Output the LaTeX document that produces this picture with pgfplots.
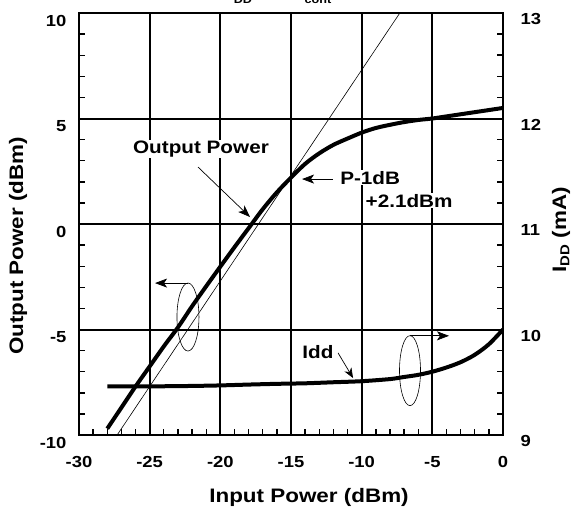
\documentclass[border=0pt]{standalone}
\usepackage{fontspec}
\setmainfont{Liberation Sans}[FakeStretch=1.15]
\usepackage{pgfplots}
\pgfplotsset{compat=1.18}
\usetikzlibrary{arrows.meta}

\pgfplotstableread{
x y
-28 -9.7
-27 -8.7
-26 -7.7
-25 -6.75
-24 -5.8
-23 -4.9
-22 -3.9
-21 -2.95
-20 -2.02
-19 -1.1
-18 -0.2
-17 0.7
-16 1.5
-15 2.2
-14 2.85
-13 3.35
-12 3.75
-11 4.05
-10 4.33
-9 4.55
-8 4.7
-7 4.83
-6 4.93
-5 5.0
-4 5.1
-3 5.2
-2 5.3
-1 5.4
0 5.5
}\pout

\pgfplotstableread{
x y
-28 9.46
-26 9.46
-24 9.462
-22 9.465
-20 9.47
-18 9.478
-16 9.485
-14 9.49
-12 9.50
-10 9.51
-8 9.53
-7 9.55
-6 9.57
-5 9.60
-4 9.64
-3 9.69
-2 9.76
-1 9.86
0 10.0
}\idd

\begin{document}
\begin{tikzpicture}
\pgfplotsset{
  common/.style={
    scale only axis, width=424pt, height=422pt,
    xmin=-30, xmax=0,
    /pgf/number format/assume math mode=true,
    tick label style={font=\fontsize{16}{16}\selectfont\bfseries},
    label style={font=\fontsize{19.5}{19.5}\selectfont\bfseries},
    minor tick length=6pt, major tick length=0pt,
    tick align=inside,
    every tick/.style={black, line width=1.4pt},
    axis line style={black, line width=2.4pt},
  }
}
\begin{axis}[common, name=main,
  ymin=-10, ymax=10,
  xtick={-30,-25,...,0}, ytick={-10,-5,...,10},
  minor x tick num=4, minor y tick num=4,
  xtick pos=left, ytick pos=left,
  grid=major, major grid style={black, line width=2pt},
  xticklabel style={yshift=-18pt},
  yticklabel style={xshift=-9pt, yshift=-8pt},
  xlabel={Input Power (dBm)},
  ylabel={Output Power (dBm)},
  xlabel style={at={(axis description cs:0.5425,-0.161)}, anchor=base},
  ylabel style={at={(axis description cs:-0.132,0.448)}, anchor=base},
]
\addplot[black, line width=0.6pt] coordinates {(-27.3,-10) (-7.3,10)};
\addplot[black, line width=4pt, smooth] table {\pout};

\draw[line width=0.6pt] (axis cs:-22.29,-4.41) ellipse [x radius=11pt, y radius=34pt];
\draw[-{Stealth[length=12pt,width=9pt,inset=3pt]}, line width=0.7pt] (axis cs:-22.29,-2.8) -- (axis cs:-24.62,-2.8);
\draw[line width=0.6pt] (axis cs:-6.58,-6.95) ellipse [x radius=10.5pt, y radius=35pt];
\draw[-{Stealth[length=12pt,width=9pt,inset=3pt]}, line width=0.7pt] (axis cs:-6.58,-5.3) -- (axis cs:-3.82,-5.3);

\node[fill=white, inner sep=1pt, font=\fontsize{18}{18}\selectfont\bfseries] at (axis cs:-21.37,3.55) {Output Power};
\draw[-{Stealth[length=12pt,width=9pt,inset=3pt]}, line width=0.7pt] (axis cs:-21.58,2.70) -- (axis cs:-17.9,0.33);
\node[fill=white, inner sep=1pt, anchor=west, font=\fontsize{18}{18}\selectfont\bfseries] at (axis cs:-11.6,2.2) {P-1dB};
\node[fill=white, inner sep=1pt, anchor=west, font=\fontsize{18}{18}\selectfont\bfseries] at (axis cs:-9.8,1.1) {+2.1dBm};
\draw[-{Stealth[length=12pt,width=9pt,inset=3pt]}, line width=0.7pt] (axis cs:-12.03,2.13) -- (axis cs:-14.22,2.13);
\node[font=\fontsize{18}{18}\selectfont\bfseries] at (axis cs:-13.09,-6.07) {Idd};
\draw[-{Stealth[length=10pt,width=8pt,inset=3pt]}, line width=0.7pt] (axis cs:-11.67,-6.11) -- (axis cs:-10.61,-7.30);
\end{axis}

\begin{axis}[common,
  ymin=9, ymax=13, ytick={9,...,13}, minor y tick num=4,
  axis y line*=right, axis x line=none,
  yticklabel style={xshift=14pt, yshift=-6pt},
  ylabel={I\textsubscript{\fontsize{13}{13}\selectfont DD} (mA)},
  ylabel style={at={(axis description cs:1.149,0.486)}, anchor=base},
]
\addplot[black, line width=4pt, smooth] table {\idd};
\end{axis}

\node[anchor=base, font=\fontsize{11}{11}\selectfont\bfseries] at ([shift={(164pt,9pt)}]main.north west) {DD};
\node[anchor=base, font=\fontsize{11}{11}\selectfont\bfseries] at ([shift={(239pt,9pt)}]main.north west) {cont};

\pgfresetboundingbox
\path[use as bounding box] ([shift={(-79pt,-74pt)}]main.south west) rectangle ([shift={(70pt,13pt)}]main.north east);
\end{tikzpicture}
\end{document}
